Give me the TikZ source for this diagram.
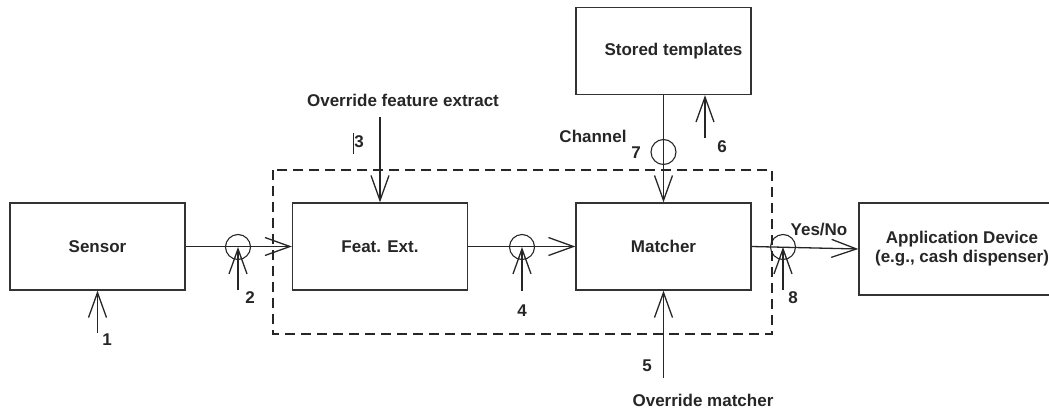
\documentclass[tikz,border=0pt]{standalone}
\usepackage{fontspec}
\setmainfont{Liberation Sans}
\usetikzlibrary{arrows.meta}
\begin{document}
\begin{tikzpicture}[x=1pt,y=-1pt,
  every node/.style={font=\fontsize{17}{20}\selectfont\bfseries, text=black!85},
  block/.style={draw=black!80, line width=1.3pt, minimum width=175pt, minimum height=87pt, inner sep=0pt},
  flow/.style={draw=black!85, line width=1.3pt, -{Straight Barb[length=25pt,width=18pt,line width=1.3pt]}},
  tap/.style={circle, draw=black!85, line width=1.1pt, minimum size=25pt, inner sep=0pt},
  tag/.style={inner sep=0pt},
  boundary/.style={draw=black!85, line width=1.3pt, dash pattern=on 10pt off 6pt}]
\clip (0,0) rectangle (1049,410);

% processing boundary
\draw[boundary] (273,170) rectangle (772,334);

% blocks
\node[block] (sensor) at (97.5,246.5) {Sensor};
\node[block] (feat) at (380,246.5) {Feat. Ext.};
\node[block] (matcher) at (663.5,246.5) {Matcher};
\node[block, label={[xshift=10pt]center:Stored templates}] (stored) at (663.5,51) {};
\node[block, minimum width=206pt, minimum height=92pt, align=center] (app) at (962,249)
  {Application Device\\[-1pt](e.g., cash dispenser)};

% main data path
\draw[flow] (sensor.east) -- (feat.west);
\draw[flow] (feat.east) -- (matcher.west);
\draw[flow] (matcher.east) -- (app.west);
\draw[flow] (stored.south) -- (matcher.north);

% attack points on channels
\node[tap] (c2) at (238,247) {};
\node[tap] (c4) at (522,247) {};
\node[tap] (c8) at (783,247) {};
\node[tap] (c7) at (663.5,152) {};

% attack inputs
\coordinate (a1) at (97.5,333);
\coordinate (a2) at (238,290);
\coordinate (a3) at (380,117);
\coordinate (a4) at (522,291);
\coordinate (a5) at (663.5,378);
\coordinate (a6) at (705,138);
\coordinate (a8) at (783,290);
\draw[flow] (a1) -- (sensor.south);
\draw[flow] (a2) -- (c2.center);
\draw[flow] (a3) -- (feat.north);
\draw[flow] (a4) -- (c4.center);
\draw[flow] (a5) -- (matcher.south);
\draw[flow] (a6) -- (a6 |- stored.south);
\draw[flow] (a8) -- (c8.center);

% labels
\node[tag] (l1) at (107,340) {1};
\node[tag] (l2) at (250,298) {2};
\node[tag] (l3) at (359,142) {3};
\draw[black!85, line width=1pt] (353,133) -- (353,154);
\node[tag] (l4) at (522,311) {4};
\node[tag] (l5) at (647,366) {5};
\node[tag] (l6) at (722,147) {6};
\node[tag] (l7) at (636,153) {7};
\node[tag] (l8) at (793,298) {8};
\node[tag] (chan) at (593,136) {Channel};
\node[tag] (ofe) at (403,100) {Override feature extract};
\node[tag] (om) at (703,400) {Override matcher};
\node[tag] (yn) at (819,230) {Yes/No};
\end{tikzpicture}
\end{document}
